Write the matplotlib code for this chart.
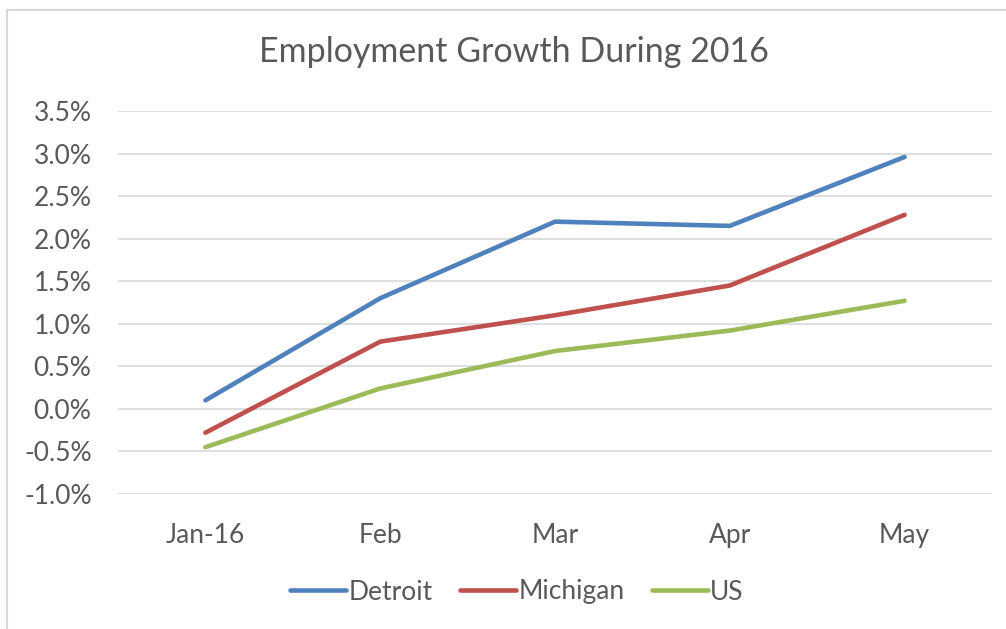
import matplotlib.pyplot as plt
from matplotlib.patches import Rectangle
from matplotlib.ticker import FuncFormatter

months = ["Jan-16", "Feb", "Mar", "Apr", "May"]
detroit = [0.10, 1.30, 2.20, 2.15, 2.96]
michigan = [-0.28, 0.79, 1.10, 1.45, 2.28]
us = [-0.45, 0.24, 0.68, 0.92, 1.27]

TEXT = "#595959"
GRID = "#d9d9d9"

plt.rcParams["font.family"] = ["Lato", "DejaVu Sans"]

fig = plt.figure(figsize=(10.06, 6.29), dpi=100)
# chart border (cut at right/bottom like the reference)
fig.patches.append(Rectangle((7 / 1006, -0.1), 1.2, 1 - 10 / 629 + 0.1,
                             transform=fig.transFigure, fill=False,
                             edgecolor=GRID, linewidth=1.5))

ax = fig.add_axes([118 / 1006, 1 - 494 / 629, (992 - 118) / 1006, (494 - 111) / 629])
x = range(len(months))
ax.plot(x, detroit, color="#4f81bd", lw=3.3, solid_capstyle="round", label="Detroit")
ax.plot(x, michigan, color="#c0504d", lw=3.3, solid_capstyle="round", label="Michigan")
ax.plot(x, us, color="#9bbb59", lw=3.3, solid_capstyle="round", label="US")

ax.set_xlim(-0.5, 4.5)
ax.set_ylim(-1.0, 3.5)
ax.set_yticks([-1.0, -0.5, 0, 0.5, 1.0, 1.5, 2.0, 2.5, 3.0, 3.5])
ax.yaxis.set_major_formatter(FuncFormatter(lambda v, p: f"{v:.1f}%"))
ax.set_xticks(list(x), labels=months)
ax.grid(axis="y", color=GRID, lw=1.2)
ax.set_axisbelow(True)
for s in ax.spines.values():
    s.set_visible(False)
ax.tick_params(length=0, colors=TEXT, labelsize=19)
ax.tick_params(axis="y", pad=19)
ax.tick_params(axis="x", pad=21)

fig.text(514 / 1006, 1 - 52 / 629, "Employment Growth During 2016", ha="center", va="center",
         fontsize=24.5, color=TEXT)

leg = fig.legend(loc="center", bbox_to_anchor=(517 / 1006, 1 - 592 / 629), ncol=3,
                 frameon=False, fontsize=19, handlelength=2.1, handletextpad=0.1,
                 columnspacing=1.05, labelcolor=TEXT)

fig.savefig("out.png", dpi=100)
